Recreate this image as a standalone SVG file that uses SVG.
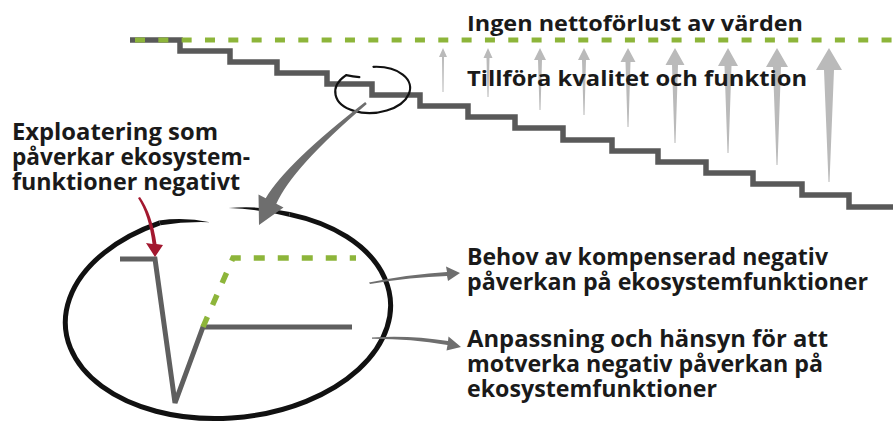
<svg xmlns="http://www.w3.org/2000/svg" width="893" height="423" viewBox="0 0 893 423">
<style>
  .txt { font-family: "Open Sans", "Liberation Sans", sans-serif; font-weight: 700; fill: #1a1a1a; }
  .t22 { font-size: 22px; }
  .t23 { font-size: 23px; }
  .stair { fill: none; stroke: #595959; stroke-width: 5.5; stroke-linejoin: miter; }
  .greendash { fill: none; stroke: #8db53a; stroke-width: 5; stroke-dasharray: 10 13.33; }
  .uparrow { fill: #bababa; }
  .ring { fill: none; stroke: #111; }
  .ringfill { fill: #111; }
  .greyarrow { fill: #6e6e6e; }
  .redarrow { fill: #a3182f; }
  .chart { fill: none; stroke: #5f5f5f; stroke-width: 5; stroke-linejoin: miter; }
  .chartdash { fill: none; stroke: #8db53a; stroke-width: 5.5; stroke-dasharray: 11 13; }
</style>
<rect width="893" height="423" fill="#ffffff"/>

<g id="up-arrows">
  <path class="uparrow" d="M442.5,92 L442,57 L439,57 L443,48 L447,57 L444,57 L443.5,92 Z"/>
  <path class="uparrow" d="M487.5,97 L486.5,58 L483.5,58 L488,48 L492.5,58 L489.5,58 L488.5,97 Z"/>
  <path class="uparrow" d="M539.5,110 L538,60 L534,60 L540,48 L546,60 L542,60 L540.5,110 Z"/>
  <path class="uparrow" d="M583.5,115 L582,60 L578,60 L584,48 L590,60 L586,60 L584.5,115 Z"/>
  <path class="uparrow" d="M627.5,127 L625.5,62 L620.5,62 L628,48 L635.5,62 L630.5,62 L628.5,127 Z"/>
  <path class="uparrow" d="M674.5,143 L672,65 L665.5,65 L675,48 L684.5,65 L678,65 L675.5,143 Z"/>
  <path class="uparrow" d="M727.5,153 L724.5,66 L718,66 L728,48 L738,66 L731.5,66 L728.5,153 Z"/>
  <path class="uparrow" d="M776.5,165 L773,67 L766,67 L777,48 L788,67 L781,67 L777.5,165 Z"/>
  <path class="uparrow" d="M828.5,182 L824,70 L816,70 L829,48 L842,70 L834,70 L829.5,182 Z"/>
</g>

<g id="staircase">
  <path class="stair" d="M130,40 H180 V51 H230 V62 H277 V73 H327 V84 H372 V95 H420 V106 H468 V117 H515 V128 H563 V140 H612 V151 H658 V162 H706 V173 H753 V184 H802 V195 H849 V207 H895"/>
</g>

<g id="target-line">
  <path class="greendash" d="M135,40 H893"/>
</g>

<g id="zoom-small">
  <g transform="translate(372.5,90) rotate(-5)">
    <path class="ring" stroke-width="2.2" stroke-linecap="round" d="M3,-23 A37.5 23 0 1 1 -25,-17.1 Q-18,-15 -12,-14"/>
  </g>
</g>

<g id="zoom-big">
  <g transform="translate(228,314) rotate(-5)">
    <path class="ring" stroke-width="5" d="M70,-93.9 A163 104 0 1 1 -60,-96.7"/>
    <path class="ringfill" d="M10,-105.5 Q40,-105.5 70.7,-96.3 L69.3,-91.5 Q40,-102 10,-105.5 Z"/>
    <path class="ringfill" d="M-60.6,-99.1 Q-35,-100.5 -10,-93 Q-35,-96 -59.4,-94.3 Z"/>
  </g>
</g>

<g id="inner-chart">
  <path class="chart" d="M120,259 H155 L175,403 L203,327 H352"/>
  <path class="chartdash" d="M203,327 L233,258 H356"/>
</g>

<g id="connectors">
  <path class="greyarrow" d="M365.2,102.1 Q286.7,163.1 265.7,198.2 L258.5,194.6 L259,225 L283.5,207.4 L276.3,203.8 Q292.1,167.7 366.8,103.9 Z"/>
  <path class="redarrow" d="M138,198 Q149,215 152.5,244 L146,243 L155,257 L163,245 L156.5,244 Q152,214 140,197 Z"/>
  <path class="greyarrow" d="M369,282.5 Q411.5,274 447,272 L446,266.5 L460,273 L448,281 L447,276 Q411.5,277 370,284 Z"/>
  <path class="greyarrow" d="M372,337.5 Q409.5,335 448,341 L448.5,336.5 L461,347 L446.5,350.5 L447.5,345 Q409.5,338.5 372,338.7 Z"/>
</g>

<g id="labels">
  <text class="txt t22" x="467" y="31" textLength="336" lengthAdjust="spacingAndGlyphs">Ingen nettoförlust av värden</text>
  <text class="txt t22" x="467" y="86" textLength="340" lengthAdjust="spacingAndGlyphs">Tillföra kvalitet och funktion</text>
  <text class="txt t23" x="12" y="140" textLength="206" lengthAdjust="spacingAndGlyphs">Exploatering som</text>
  <text class="txt t23" x="12" y="165" textLength="238" lengthAdjust="spacingAndGlyphs">påverkar ekosystem-</text>
  <text class="txt t23" x="12" y="190" textLength="228" lengthAdjust="spacingAndGlyphs">funktioner negativt</text>
  <text class="txt t23" x="467" y="265" textLength="361" lengthAdjust="spacingAndGlyphs">Behov av kompenserad negativ</text>
  <text class="txt t23" x="467" y="290" textLength="401" lengthAdjust="spacingAndGlyphs">påverkan på ekosystemfunktioner</text>
  <text class="txt t23" x="467" y="347" textLength="361" lengthAdjust="spacingAndGlyphs">Anpassning och hänsyn för att</text>
  <text class="txt t23" x="467" y="372" textLength="356" lengthAdjust="spacingAndGlyphs">motverka negativ påverkan på</text>
  <text class="txt t23" x="467" y="397" textLength="250" lengthAdjust="spacingAndGlyphs">ekosystemfunktioner</text>
</g>
</svg>
